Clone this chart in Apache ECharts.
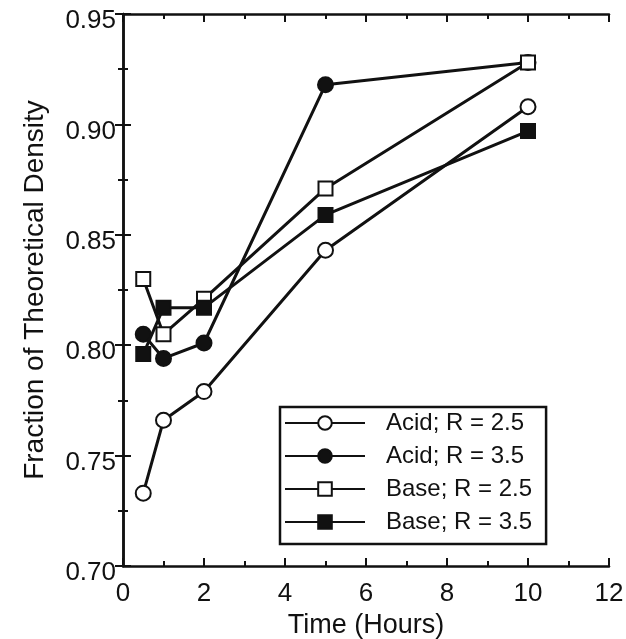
<!DOCTYPE html>
<html>
<head>
    <meta charset="utf-8">
    <title>Fraction of Theoretical Density vs Time</title>
    <script src="https://cdn.jsdelivr.net/npm/echarts@6/dist/echarts.min.js"></script>
    <style>
        html, body { margin: 0; padding: 0; background: #fff; }
        #main { width: 626px; height: 639px; }
    </style>
</head>
<body>
<div id="main"></div>
<script>
    // data
    var timeHours = [0.5, 1, 2, 5, 10];
    var acid25 = [0.733, 0.766, 0.779, 0.843, 0.908];
    var acid35 = [0.805, 0.794, 0.801, 0.918, 0.928];
    var base25 = [0.830, 0.805, 0.821, 0.871, 0.928];
    var base35 = [0.796, 0.817, 0.817, 0.859, 0.897];
    var seriesNames = ['Acid; R = 2.5', 'Acid; R = 3.5', 'Base; R = 2.5', 'Base; R = 3.5'];

    function pairs(ys) {
        return timeHours.map(function (t, i) { return [t, ys[i]]; });
    }

    var font = '"Liberation Sans", Arial, sans-serif';
    var ink = '#111';

    function lineSeries(name, ys, symbol, filled) {
        return {
            name: name,
            type: 'line',
            data: pairs(ys),
            symbol: symbol,
            symbolSize: symbol === 'circle' ? 15 : 14,
            showAllSymbol: true,
            lineStyle: { color: ink, width: 3 },
            itemStyle: {
                color: filled ? ink : '#fff',
                borderColor: ink,
                borderWidth: 2
            },
            emphasis: { disabled: true }
        };
    }

    var chart = echarts.init(document.getElementById('main'));

    var tickCommon = {
        axisLine: { show: true, lineStyle: { color: ink, width: 2.5 } },
        axisTick: { show: true, inside: true, length: 8, lineStyle: { color: ink, width: 2 } },
        minorTick: { show: true, splitNumber: 2, length: 5, lineStyle: { color: ink, width: 2 } },
        splitLine: { show: false },
        minorSplitLine: { show: false }
    };

    var option = {
        animation: false,
        backgroundColor: '#fff',
        textStyle: { fontFamily: font, color: ink },
        grid: { left: 123, top: 14, width: 486, height: 552, outerBoundsMode: 'none' },
        legend: {
            orient: 'vertical',
            left: 280,
            top: 407,
            padding: [4, 14, 10, 4],
            itemWidth: 80,
            itemHeight: 17,
            itemGap: 9,
            borderColor: ink,
            borderWidth: 2.5,
            backgroundColor: '#fff',
            selectedMode: false,
            textStyle: { fontFamily: font, fontSize: 24, color: ink, padding: [0, 0, 0, 16] },
            data: seriesNames
        },
        xAxis: [
            Object.assign({
                type: 'value',
                position: 'bottom',
                min: 0, max: 12, interval: 2,
                name: 'Time (Hours)',
                nameLocation: 'middle',
                nameGap: 42,
                nameTextStyle: { fontFamily: font, fontSize: 27, color: ink },
                axisLabel: { fontFamily: font, fontSize: 26, color: ink, margin: 15 }
            }, tickCommon),
            Object.assign({
                type: 'value',
                position: 'top',
                min: 0, max: 12, interval: 2,
                axisLabel: { show: false }
            }, tickCommon)
        ],
        yAxis: [
            Object.assign({
                type: 'value',
                position: 'left',
                min: 0.70, max: 0.95, interval: 0.05,
                name: 'Fraction of Theoretical Density',
                nameLocation: 'middle',
                nameGap: 74,
                nameTextStyle: { fontFamily: font, fontSize: 28, color: ink },
                axisLabel: {
                    fontFamily: font, fontSize: 26, color: ink, margin: 7,
                    verticalAlign: 'top', lineHeight: 14,
                    formatter: function (v) { return v.toFixed(2); }
                }
            }, tickCommon),
            Object.assign({
                type: 'value',
                position: 'right',
                min: 0.70, max: 0.95, interval: 0.05,
                axisLabel: { show: false }
            }, tickCommon)
        ],
        series: [
            lineSeries(seriesNames[0], acid25, 'circle', false),
            lineSeries(seriesNames[1], acid35, 'circle', true),
            lineSeries(seriesNames[2], base25, 'rect', false),
            lineSeries(seriesNames[3], base35, 'rect', true)
        ]
    };

    chart.setOption(option);
</script>
</body>
</html>
